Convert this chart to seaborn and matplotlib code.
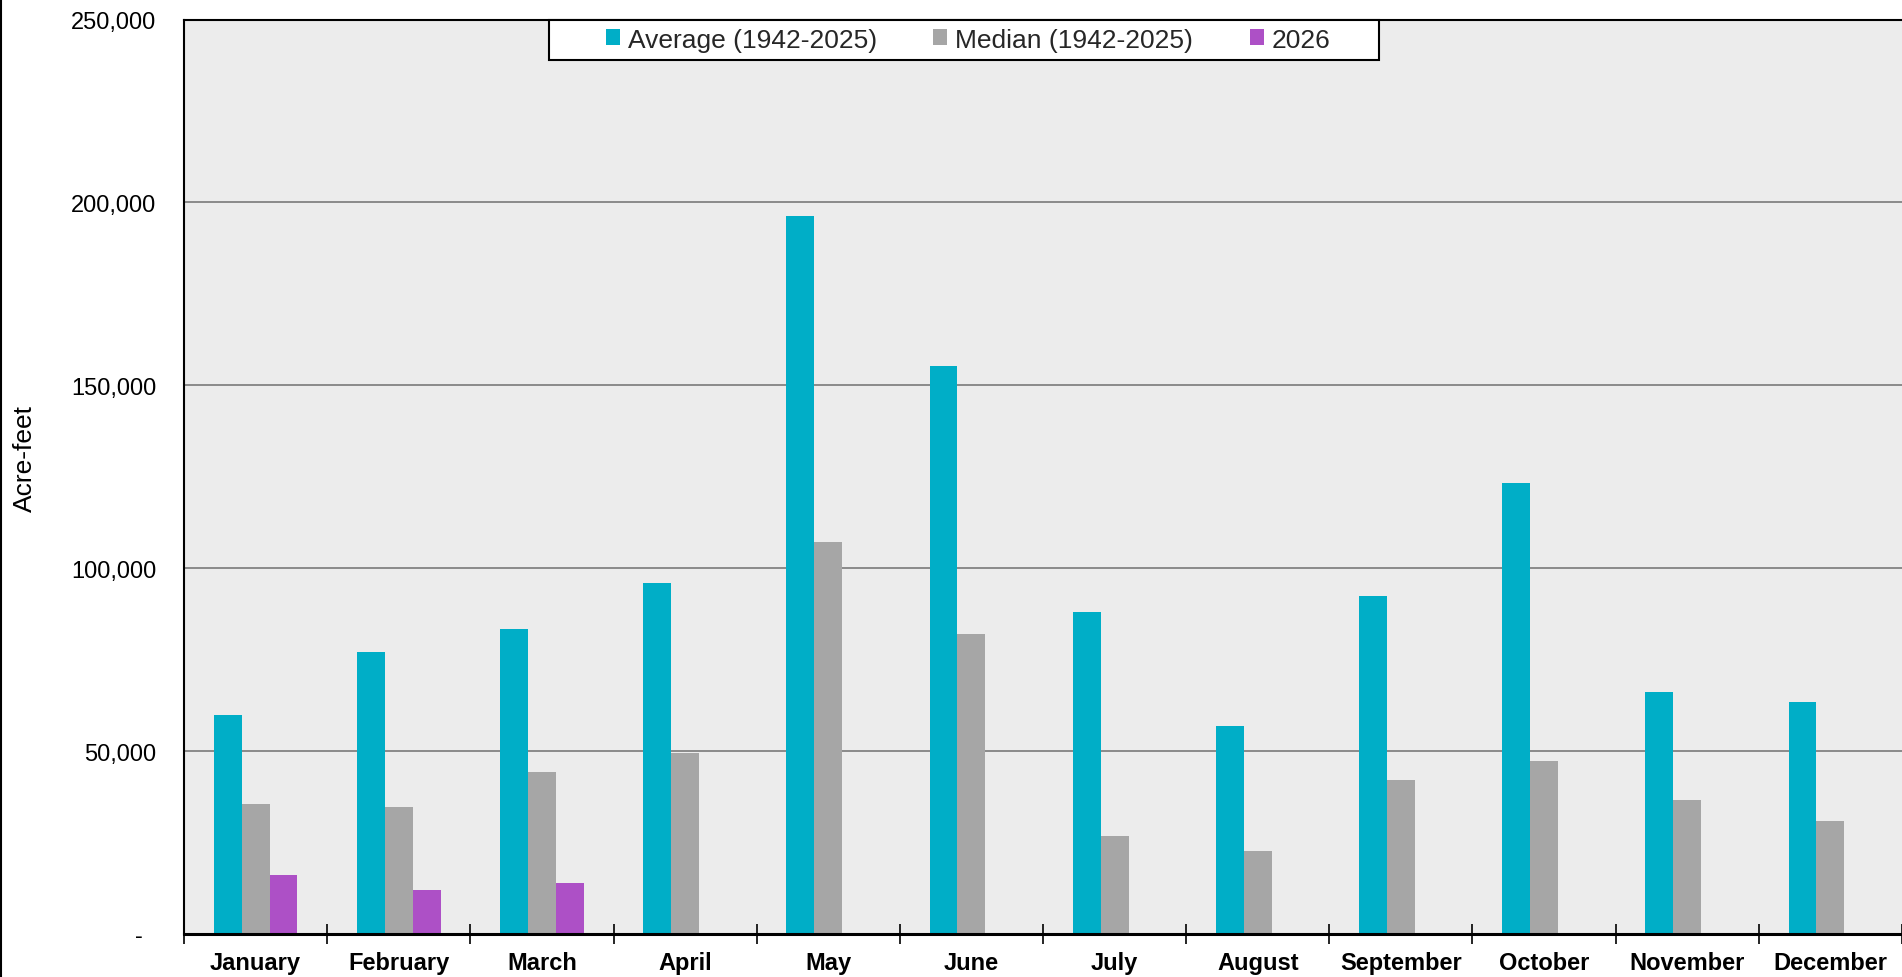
import matplotlib
matplotlib.use("Agg")
import matplotlib.pyplot as plt
from matplotlib.lines import Line2D
from matplotlib.patches import Rectangle
from matplotlib.ticker import FixedLocator
import numpy as np
import pandas as pd
import seaborn as sns

# Monthly flow volumes (acre-feet)
months = ["January", "February", "March", "April", "May", "June", "July",
          "August", "September", "October", "November", "December"]
series_names = ["Average (1942-2025)", "Median (1942-2025)", "2026"]
average_af = [60000, 77100, 83400, 96100, 196300, 155300, 88000, 57000,
              92400, 123400, 66300, 63400]
median_af = [35600, 34600, 44300, 49500, 107100, 82100, 26900, 22800,
             42200, 47200, 36600, 30800]
wy2026_af = [16200, 11900, 14000, np.nan, np.nan, np.nan, np.nan, np.nan,
             np.nan, np.nan, np.nan, np.nan]
colors = ["#00AEC7", "#A6A6A6", "#AD50C6"]
y_ticks = [0, 50000, 100000, 150000, 200000, 250000]
y_tick_labels = ["-  ", "50,000", "100,000", "150,000", "200,000", "250,000"]

df = pd.DataFrame({
    "month": months * 3,
    "series": np.repeat(series_names, len(months)),
    "value": average_af + median_af + wy2026_af,
})

sns.set_theme(style="white")
plt.rcParams["font.family"] = ["Liberation Sans", "DejaVu Sans"]

W, H = 1902, 978
fig = plt.figure(figsize=(W / 100, H / 100), dpi=100)
fig.patch.set_facecolor("white")
ax_left, ax_right, ax_top, ax_bottom = 184, 1902, 20.6, 935
ax = fig.add_axes([ax_left / W, 1 - ax_bottom / H,
                   (ax_right - ax_left) / W, (ax_bottom - ax_top) / H])
ax.set_facecolor("#ECECEC")

sns.barplot(data=df, x="month", y="value", hue="series", order=months,
            hue_order=series_names, palette=colors, width=0.585,
            saturation=1, errorbar=None, linewidth=0, ax=ax)

handles, labels = ax.get_legend_handles_labels()
if ax.get_legend() is not None:
    ax.get_legend().remove()

ax.set_xlim(-0.5, len(months) - 0.5)
ax.set_ylim(0, 250000)
ax.set_yticks(y_ticks)
ax.set_yticklabels(y_tick_labels)
ax.set_xlabel("")
ax.set_ylabel("")

ax.yaxis.grid(True, color="#8A8A8A", linewidth=1.4)
ax.xaxis.grid(False)
ax.set_axisbelow(True)

ax.tick_params(axis="y", length=0, pad=20, labelsize=17, labelcolor="black")
ax.tick_params(axis="x", which="major", length=0, pad=12, labelsize=17,
               labelcolor="black")
for t in ax.get_xticklabels():
    t.set_fontweight("bold")
ax.xaxis.set_minor_locator(FixedLocator(np.arange(-0.5, len(months), 1.0)))
ax.tick_params(axis="x", which="minor", direction="inout", length=14,
               width=1.2, color="black", bottom=True)

for side, lw in [("left", 1.5), ("top", 1.5), ("bottom", 2.2)]:
    ax.spines[side].set_visible(True)
    ax.spines[side].set_color("black")
    ax.spines[side].set_linewidth(lw)
ax.spines["right"].set_visible(False)

fig.text(25 / W, 1 - 458 / H, "Acre-feet", rotation=90, ha="center",
         va="center", fontsize=19, color="black")

# Legend box across the top of the plot area
lx0, lx1, ly0, ly1 = 549, 1379, 20.6, 60.6
fig.patches.append(Rectangle((lx0 / W, 1 - ly1 / H), (lx1 - lx0) / W,
                             (ly1 - ly0) / H, transform=fig.transFigure,
                             facecolor="white", edgecolor="black",
                             linewidth=1.5, zorder=4))
leg = fig.legend(handles, labels, loc="center",
                 bbox_to_anchor=(968 / W, 1 - (ly0 + ly1) / 2 / H),
                 ncol=3, frameon=False, fontsize=19, handlelength=0.53,
                 handleheight=0.53, handletextpad=0.29, columnspacing=2.15,
                 borderpad=0.0)
leg.set_zorder(5)

# Thin border along the left edge of the figure
fig.add_artist(Line2D([0.6 / W, 0.6 / W], [0, 1], transform=fig.transFigure,
                      color="black", linewidth=1.5))

fig.savefig("out.png", dpi=100)
